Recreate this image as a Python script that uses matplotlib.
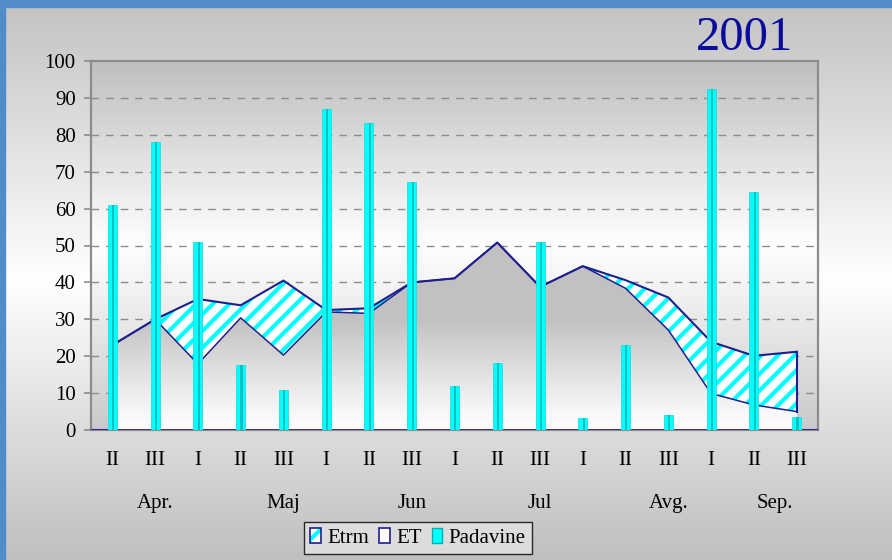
import matplotlib
matplotlib.use('Agg')
import matplotlib.pyplot as plt
import numpy as np
from matplotlib.patches import Patch, Rectangle
from matplotlib.legend_handler import HandlerTuple

plt.rcParams['font.family'] = ['Liberation Serif', 'DejaVu Serif']
plt.rcParams['hatch.linewidth'] = 3.0

decades = ['II', 'III', 'I', 'II', 'III', 'I', 'II', 'III', 'I',
           'II', 'III', 'I', 'II', 'III', 'I', 'II', 'III']
months = ['Apr.', 'Maj', 'Jun', 'Jul', 'Avg.', 'Sep.']
month_idx = [1, 4, 7, 10, 13, 15.5]
etrm = [23, 30, 35.5, 33.8, 40.5, 32.5, 33, 40, 41.1, 50.8, 38.8,
        44.4, 40.6, 35.9, 23.9, 20.1, 21.2]
et = [23, 30, 17.9, 30.4, 20.3, 32, 31.6, 40, 41.1, 50.8, 38.8,
      44.4, 38.4, 27.1, 9.9, 6.8, 5.0]
padavine = [60.9, 78, 50.9, 17.5, 10.8, 87, 83.2, 67.2, 11.9, 18.1, 50.9,
            3.2, 22.9, 4.2, 92.3, 64.4, 3.6]

navy = '#1f1f8c'
cyan = '#00ffff'
x = np.arange(len(decades))


def vgrad(levels, shades, n=256, lo=0, hi=1):
    """Vertical gray gradient as an RGB column (bottom row first)."""
    t = np.linspace(lo, hi, n)
    g = np.interp(t, levels, shades)
    return np.repeat(g[:, None, None], 3, axis=2)


fig = plt.figure(figsize=(8.92, 5.6), dpi=100)

# figure background
bg = fig.add_axes([0, 0, 1, 1])
bg.imshow(vgrad([0, 0.5, 1], [0.75, 1.0, 0.76]), extent=[0, 1, 0, 1],
          aspect='auto', origin='lower', interpolation='bilinear')
bg.add_patch(Rectangle((0, 1 - 7 / 560), 1, 7 / 560, color='#508cc8'))
bg.add_patch(Rectangle((0, 0), 5 / 892, 1, color='#508cc8'))
bg.set_xlim(0, 1)
bg.set_ylim(0, 1)
bg.axis('off')

ax = fig.add_axes([91 / 892, 1 - 430 / 560, 727 / 892, 369 / 560])
ax.set_zorder(1)
ax.patch.set_alpha(0)

# plot area background
ax.imshow(vgrad([0, 50, 100], [0.79, 1.0, 0.75], hi=100),
          extent=[-0.5, 16.5, 0, 100], aspect='auto', origin='lower',
          interpolation='bilinear', zorder=0)

for yv in range(10, 100, 10):
    ax.axhline(yv, color='#8c8c8c', lw=1, ls=(0, (5.5, 5)), zorder=1)

# Etrm area, hatched
ax.fill_between(x, 0, etrm, facecolor='white', edgecolor=cyan, hatch='//',
                lw=0, zorder=2)
ax.plot(x, etrm, color=navy, lw=1.5, zorder=4)
ax.plot([x[-1], x[-1]], [et[-1], etrm[-1]], color=navy, lw=1.5, zorder=4)

# ET area, gradient fill
poly = ax.fill_between(x, 0, et, facecolor='none', lw=0, zorder=3)
im = ax.imshow(vgrad([0, 5, 30, 100], [1.0, 0.97, 0.76, 0.75], hi=100),
               extent=[-0.5, 16.5, 0, 100], aspect='auto', origin='lower',
               interpolation='bilinear', zorder=3)
im.set_clip_path(poly.get_paths()[0], transform=ax.transData)
ax.plot(x, et, color=navy, lw=1.1, zorder=4)
ax.axhline(0, color=navy, lw=2, zorder=4)

# Padavine bars
ax.bar(x, padavine, width=0.21, color=cyan, edgecolor='#20e0e0', lw=0.6,
       zorder=5)
ax.bar(x + 0.02, padavine, width=0.05, color='#00c4c4', lw=0, zorder=6)

ax.set_xlim(-0.5, 16.5)
ax.set_ylim(0, 100)
ax.set_yticks(range(0, 101, 10))
ax.set_xticks(x, decades)
ax.tick_params(axis='x', length=0, pad=15, labelsize=15)
ax.tick_params(axis='y', length=5, width=1.2, color='#8c8c8c', pad=6,
               labelsize=15)
for s in ax.spines.values():
    s.set_color('#8c8c8c')
    s.set_linewidth(1.6)

trans = ax.get_xaxis_transform()
for lab, pos in zip(months, month_idx):
    ax.text(pos, -0.198, lab, transform=trans, ha='center', va='center',
            fontsize=15)

fig.text(745 / 892, 1 - 38 / 560, '2001', ha='center', va='center',
         fontsize=35, color='#0c0c9c')

handles = [
    (Patch(facecolor='white', edgecolor=cyan, hatch='//', lw=0),
     Patch(facecolor='none', edgecolor=navy, lw=1.2)),
    Patch(facecolor='white', edgecolor=navy, lw=1.2),
    Patch(facecolor=cyan, edgecolor='#00b0b0', lw=1),
]
leg = fig.legend(handles, ['Etrm', 'ET', 'Padavine'], loc='center',
                 bbox_to_anchor=(418 / 892, 22 / 560), ncol=3, fontsize=15,
                 handler_map={tuple: HandlerTuple(ndivide=1, pad=0)},
                 handlelength=0.5, handleheight=0.7, handletextpad=0.3,
                 columnspacing=0.5, borderpad=0.3, fancybox=False,
                 frameon=True)
leg.get_frame().set_edgecolor('black')
leg.get_frame().set_linewidth(1)
leg.get_frame().set_facecolor('#e4e4e4')

fig.savefig('out.png', dpi=100)
